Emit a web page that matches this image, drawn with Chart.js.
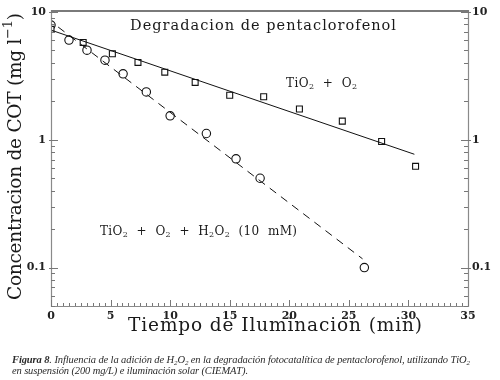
<!DOCTYPE html>
<html>
<head>
<meta charset="utf-8">
<script src="https://cdn.jsdelivr.net/npm/chart.js@4/dist/chart.umd.min.js"></script>
<style>
html,body{margin:0;padding:0;background:#fff;}
#c{display:block;}
</style>
</head>
<body>
<canvas id="c" width="500" height="380"></canvas>
<script>
// ---- data ----
const timeO2 = [0, 2.7, 5.15, 7.3, 9.55, 12.1, 15.0, 17.85, 20.85, 24.45, 27.75, 30.6];
const cotO2  = [7.32, 5.78, 4.71, 4.03, 3.38, 2.81, 2.23, 2.17, 1.74, 1.40, 0.97, 0.62];
const timeH2O2 = [0, 1.51, 3.02, 4.53, 6.05, 8.0, 10.0, 13.04, 15.53, 17.55, 26.3];
const cotH2O2  = [7.91, 6.03, 5.03, 4.20, 3.28, 2.37, 1.54, 1.12, 0.71, 0.50, 0.100];
const fitO2Time = [0, 30.5];
const fitO2Cot  = [7.22, 0.77];
const fitH2O2Time = [0.6, 26.15];
const fitH2O2Cot  = [7.63, 0.117];
const xTickLabels = [0, 5, 10, 15, 20, 25, 30, 35];
const yTickLabels = [0.1, 1, 10];

const pts = (xs, ys) => xs.map((x, i) => ({x: x, y: ys[i]}));

function drawFitted(ctx, segs, x, y, target, baseFont, sizeBase) {
  const chars = [];
  segs.forEach(sg => {
    for (const ch of sg.t) chars.push({ch: ch, s: sg.s || 0, f: sg.f || baseFont});
  });
  let natural = 0;
  chars.forEach(c => {
    const sz = c.s ? Math.round(sizeBase * 0.68) : sizeBase;
    ctx.font = c.f.replace('SZ', sz + 'px');
    c.w = ctx.measureText(c.ch).width;
    c.sz = sz;
    natural += c.w;
  });
  const sp = target == null ? 0 : (target - natural) / (chars.length - 1);
  let cx = x;
  chars.forEach(c => {
    ctx.font = c.f.replace('SZ', c.sz + 'px');
    const dy = c.s === 1 ? sizeBase * 0.28 : (c.s === -1 ? -sizeBase * 0.38 : 0);
    ctx.fillText(c.ch, cx, y + dy);
    cx += c.w + sp;
  });
  return sp;
}

const decor = {
  id: 'decor',
  afterDraw(chart) {
    const ctx = chart.ctx;
    const xs = chart.scales.x, ys = chart.scales.y;
    const a = chart.chartArea;
    ctx.save();
    ctx.strokeStyle = '#8a8a8a';
    ctx.lineWidth = 1.2;
    ctx.beginPath();
    ctx.moveTo(a.left + 0.5, a.top); ctx.lineTo(a.left + 0.5, a.bottom + 0.5);
    ctx.lineTo(a.right + 0.5, a.bottom + 0.5); ctx.lineTo(a.right + 0.5, a.top);
    ctx.stroke();
    ctx.strokeStyle = '#7a7a7a';
    ctx.lineWidth = 2;
    ctx.beginPath();
    ctx.moveTo(a.left, a.top + 1); ctx.lineTo(a.right + 1, a.top + 1);
    ctx.stroke();
    ctx.strokeStyle = '#777';
    ctx.lineWidth = 1;
    ctx.beginPath();
    for (let v = 0; v <= 35.001; v += 0.5) {
      const px = Math.round(xs.getPixelForValue(v)) + 0.5;
      const len = (Math.abs(v % 5) < 1e-6) ? 6 : 3;
      ctx.moveTo(px, a.bottom); ctx.lineTo(px, a.bottom - len);
    }
    for (let d = -2; d <= 1; d++) {
      for (let m = 1; m <= 9; m++) {
        const v = m * Math.pow(10, d);
        if (v < ys.min * 0.999 || v > ys.max) continue;
        const py = Math.round(ys.getPixelForValue(v)) + 0.5;
        const len = m === 1 ? 7 : 4;
        ctx.moveTo(a.left, py); ctx.lineTo(a.left + len, py);
        ctx.moveTo(a.right, py); ctx.lineTo(a.right - len, py);
        if (m === 1) {
          ctx.moveTo(a.left - 2, py); ctx.lineTo(a.left, py);
          ctx.moveTo(a.right, py); ctx.lineTo(a.right + 3, py);
        }
      }
    }
    ctx.stroke();
    ctx.fillStyle = '#222';
    ctx.font = 'bold 11px "DejaVu Serif"';
    ctx.textBaseline = 'middle';
    ctx.textAlign = 'center';
    xTickLabels.forEach(v => {
      ctx.fillText(String(v), xs.getPixelForValue(v), a.bottom + 10);
    });
    yTickLabels.forEach(v => {
      const py = ys.getPixelForValue(v);
      ctx.textAlign = 'right';
      ctx.fillText(String(v), a.left - 5, py);
      ctx.textAlign = 'left';
      ctx.fillText(String(v), a.right + 4, py);
    });
    ctx.textAlign = 'left';
    ctx.textBaseline = 'middle';
    ctx.fillStyle = '#1a1a1a';
    const serif = 'SZ "DejaVu Serif"';
    drawFitted(ctx, [{t: 'Degradacion de pentaclorofenol'}], 130, 26, 266, serif, 14.5);
    drawFitted(ctx, [{t: 'TiO'}, {t: '2', s: 1}, {t: '  +  O'}, {t: '2', s: 1}], 286, 84, 71, serif, 12);
    drawFitted(ctx, [{t: 'TiO'}, {t: '2', s: 1}, {t: '  +  O'}, {t: '2', s: 1}, {t: '  +  H'}, {t: '2', s: 1}, {t: 'O'}, {t: '2', s: 1}, {t: '  (10  mM)'}], 100, 232, 197, serif, 12);
    drawFitted(ctx, [{t: 'Tiempo de Iluminacion (min)'}], 128, 326, 294, serif, 18.5);
    ctx.save();
    ctx.translate(16, 300);
    ctx.rotate(-Math.PI / 2);
    drawFitted(ctx, [{t: 'Concentracion de COT (mg l'}, {t: '−1', s: -1}, {t: ')'}], 0, 0, 287, serif, 18.5);
    ctx.restore();
    ctx.fillStyle = '#2a2a2a';
    const it = 'italic SZ "Liberation Serif"';
    const bi = 'italic bold SZ "Liberation Serif"';
    drawFitted(ctx, [{t: 'Figura 8', f: bi}, {t: '. Influencia de la adición de H'}, {t: '2', s: 1}, {t: 'O'}, {t: '2', s: 1}, {t: ' en la degradación fotocatalítica de pentaclorofenol, utilizando TiO'}, {t: '2', s: 1}], 12, 360, 458, it, 10.5);
    drawFitted(ctx, [{t: 'en suspensión (200 mg/L) e iluminación solar (CIEMAT).'}], 12, 371, 236, it, 10.5);
    ctx.restore();
  }
};

new Chart(document.getElementById('c'), {
  type: 'scatter',
  data: {
    datasets: [
      {data: pts(fitO2Time, fitO2Cot), showLine: true, borderColor: '#111', borderWidth: 1, pointRadius: 0, fill: false},
      {data: pts(fitH2O2Time, fitH2O2Cot), showLine: true, borderColor: '#111', borderWidth: 1, borderDash: [8, 6], pointRadius: 0, fill: false},
      {data: pts(timeO2, cotO2), pointStyle: 'rect', pointRadius: 4.2, borderColor: '#111', backgroundColor: '#fff', borderWidth: 1.1},
      {data: pts(timeH2O2, cotH2O2), pointStyle: 'circle', pointRadius: 4.2, borderColor: '#111', backgroundColor: '#fff', borderWidth: 1.1}
    ]
  },
  options: {
    responsive: false,
    devicePixelRatio: 1,
    animation: false,
    layout: {padding: {left: 51, right: 32, top: 10, bottom: 74}},
    plugins: {legend: {display: false}, tooltip: {enabled: false}, title: {display: false}},
    scales: {
      x: {type: 'linear', min: 0, max: 35, display: false},
      y: {type: 'logarithmic', min: 0.05, max: 10.37, display: false}
    }
  },
  plugins: [decor]
});
</script>
</body>
</html>
